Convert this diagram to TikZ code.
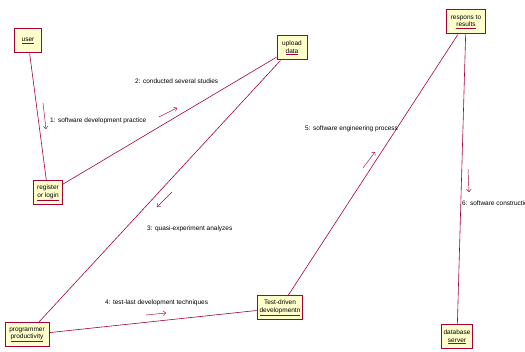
\documentclass[tikz,border=0pt]{standalone}
\usepackage{fontspec}
\setmainfont{Liberation Sans}
\usetikzlibrary{arrows.meta}
\definecolor{objline}{RGB}{165,0,60}
\definecolor{objfill}{RGB}{255,255,204}
\newcommand{\uname}[1]{\textcolor{objline}{\underline{\textcolor{black}{#1}}}}
\newcommand{\msgtext}[3]{\node[lbl] at (#2,#3) {#1};}
\tikzset{
  obj/.style={draw=objline, fill=objfill, line width=1pt, align=center,
    font=\fontsize{6.5}{7.5}\selectfont, inner sep=2.5pt, minimum height=24},
  link/.style={draw=objline, line width=0.6pt},
  msg/.style={draw=objline, line width=0.45pt, -{To[length=3pt,width=5pt]}},
  lbl/.style={anchor=west, inner sep=0pt, font=\fontsize{6.5}{7.5}\selectfont}
}
\begin{document}
\begin{tikzpicture}[x=1pt,y=-1pt]
\useasboundingbox (0,0) rectangle (525,352);
% objects
\node[obj, minimum width=27] (user) at (28,41) {\uname{user}};
\node[obj, minimum width=30] (upload) at (292,48) {upload\\\uname{data}};
\node[obj, minimum width=39] (respons) at (466,22) {respons to\\\uname{results}};
\node[obj, minimum width=29] (register) at (48,193) {register\\\uname{or login}};
\node[obj, minimum width=44] (programmer) at (27,335) {programmer\\\uname{productivity}};
\node[obj, minimum width=44] (testdriven) at (280,308) {Test-driven\\\uname{developmentn}};
\node[obj, minimum width=31] (database) at (457,337) {database\\\uname{server}};
% links
\draw[link] (user) -- (register);
\draw[link] (register) -- (upload);
\draw[link] (upload) -- (programmer);
\draw[link] (programmer) -- (testdriven);
\draw[link] (testdriven) -- (respons);
\draw[link] (respons) -- (database);
% messages
\draw[msg] (43,103) -- (46,129);
\draw[msg] (159,117) -- (177,108);
\draw[msg] (172,192) -- (157,207);
\draw[msg] (146,315) -- (166,313);
\draw[msg] (363,168) -- (375,152);
\draw[msg] (468,169) -- (469,192);
\msgtext{1: software development practice}{50}{121}
\msgtext{2: conducted several studies}{135}{81}
\msgtext{3: quasi-experiment analyzes}{147}{229}
\msgtext{4: test-last development techniques}{105}{303}
\msgtext{5: software engineering process}{305}{129}
\msgtext{6: software construction}{462}{203}
\end{tikzpicture}
\end{document}
